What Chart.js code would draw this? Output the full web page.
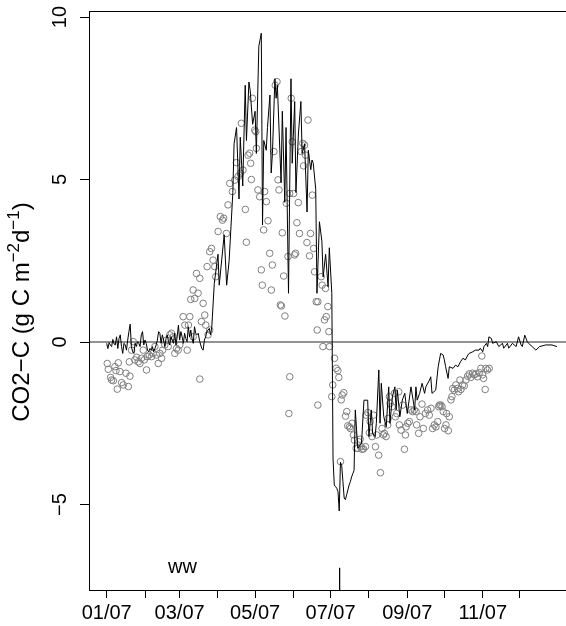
<!DOCTYPE html>
<html><head><meta charset="utf-8">
<script src="https://cdn.jsdelivr.net/npm/chart.js@4.4.0/dist/chart.umd.min.js"></script>
<style>html,body{margin:0;padding:0;background:#fff;overflow:hidden}#wrap{width:580px;height:626px}</style>
</head><body><div id="wrap"><canvas id="c" width="580" height="626"></canvas></div>
<script>
// ---- DATA (day of year 2007, 0 = 1 Jan) ----
const lineDays = [0,1,2,3,4,5,6,7,8,9,10,11,12,13,14,15,16,17,18,19,20,21,22,23,24,25,26,27,28,29,30,31,32,33,34,35,36,37,38,39,40,41,42,43,44,45,46,47,48,49,50,51,52,53,54,55,56,57,58,59,60,61,62,63,64,65,66,67,68,69,70,71,72,73,74,75,76,77,78,79,80,81,82,83,84,85,
 87,90,91,95,97,99,102,103,105,107,108,110,112,113,115,116,118,120,121,123,125,126,127,129,130,132,133,134,136,137,138,141,142,144,145,147,149,150,152,153,155,157,158,160,162,163,165,166,167,169,170,172,174,175,177,179,180,182,
 183,184,185,186,187,188,189,190,191,192,193,194,195,196,197,198,199,200,
 201,203,206,208,211,212,214,215,217,218,220,221,222,224,226,228,229,231,233,234,235,237,239,241,243,246,249,250,251,253,255,257,258,261,262,263,266,268,269,270,272,273,274,276,277,280,282,284,286,288,290,292,293,296,298,301,302,304,305,307,308,309,311,312,315,317,320,321,324,325,328,331,333,335,336,338,340,341,344,347,350,355,360,364];
const lineValues = [-0.04,-0.20,-0.02,-0.09,-0.14,0.08,-0.06,-0.09,0.16,-0.20,0.11,0.22,-0.14,-0.35,-0.04,-0.09,-0.25,0.06,0.32,0.55,-0.14,-0.30,-0.35,-0.04,-0.14,0.01,-0.04,-0.14,0.22,0.32,-0.09,0.06,-0.04,-0.25,-0.30,-0.20,-0.25,-0.14,-0.30,-0.20,-0.09,0.06,0.32,0.27,-0.04,0.22,0.06,-0.14,0.11,0.22,0.01,-0.09,0.16,0.06,-0.04,0.27,-0.09,0.16,0.52,0.06,0.32,0.16,-0.04,0.27,0.11,0.01,0.47,0.16,0.37,0.11,-0.04,0.47,0.27,0.22,0.27,0.06,-0.09,-0.20,-0.25,0.06,0.16,0.32,0.37,0.42,0.22,0.47,
 1.8,2.7,1.75,3.3,1.75,2.5,4.6,6.1,6.6,4.4,6.3,4.8,7.9,6.2,8.0,7.75,6.7,7.1,5.8,9.1,9.5,3.6,6.2,5.9,6.6,7.6,5.2,5.8,8.1,7.5,7.9,4.9,7.1,4.3,6.6,1.5,8.1,5.5,7.4,4.6,6.4,7.4,5.8,6.1,4.0,5.9,5.3,5.6,5.5,4.7,1.5,3.7,3.1,2.0,2.7,1.7,2.9,1.5,
 -3.6,-4.4,-4.45,-4.5,-4.6,-5.2,-3.7,-3.8,-4.3,-4.8,-4.85,-4.7,-4.55,-4.4,-4.3,-4.15,-4.05,-3.95,
 -2.09,-3.27,-3.12,-1.79,-1.79,-2.91,-2.09,-2.81,-2.91,-2.5,-0.86,-2.5,-1.27,-2.3,-2.61,-1.38,-2.5,-1.68,-1.38,-2.09,-1.48,-2.3,-1.79,-1.58,-2.2,-1.38,-2.09,-1.38,-1.79,-1.58,-1.27,-1.58,-1.38,-1.17,-1.07,-1.58,-1.48,-0.76,-0.55,-0.35,-0.40,-0.55,-0.76,-1.12,-0.76,-0.81,-0.71,-0.76,-0.61,-0.5,-0.55,-0.40,-0.35,-0.30,-0.25,-0.25,-0.19,-0.30,-0.14,-0.04,-0.14,0.16,0.11,-0.04,0.01,-0.14,-0.04,-0.19,-0.04,-0.19,-0.04,-0.14,0.16,-0.09,-0.14,0.21,0.01,-0.04,-0.14,-0.25,-0.14,-0.09,-0.09,-0.14];

const pointDays = [0.5,1.3,3.2,4.0,5.4,6.7,7.5,8.6,9.4,10.7,12.1,13.4,15.6,17.5,18.8,18.3,20.1,21.5,22.8,24.2,25.5,26.9,28.2,29.6,30.4,32.2,32.8,34.4,36.3,37.6,39.0,40.3,41.7,43.0,44.4,45.2,47.0,48.4,49.7,51.1,52.4,53.8,55.1,56.5,57.8,59.1,61.8,63.2,65.1,66.1,67.2,69.9,75.3,76.6,78.0,79.3,80.1,82.0,83.3,
 68.0,69.9,71.2,72.6,73.9,75.3,81.2,83.3,84.7,86.0,87.4,88.2,90.1,91.9,93.6,94.6,96.8,98.1,99.5,101.6,103.5,104.9,106.2,108.1,108.9,110.2,112.1,112.9,114.3,115.6,116.4,117.0,117.8,119.7,120.5,121.0,122.3,123.7,125.0,125.8,126.9,127.7,129.1,130.4,131.8,133.1,133.9,135.2,136.3,137.7,138.5,139.3,140.4,141.2,142.0,143.1,144.1,145.2,146.6,147.9,149.2,150.0,151.1,151.9,152.7,153.8,154.9,155.9,157.3,158.6,159.2,160.0,160.8,161.9,162.7,164.0,164.8,166.2,167.3,168.1,169.4,170.7,170.2,173.4,174.2,176.9,174.8,176.1,177.5,178.8,179.6,180.2,147.3,148.0,
 170.7,184.2,185.5,186.9,187.7,182.8,182.0,189.0,189.6,190.4,191.7,193.1,194.1,194.9,196.3,197.1,198.4,199.5,200.3,201.7,203.0,203.8,204.9,205.7,206.5,207.6,209.2,209.7,211.1,212.4,213.0,214.6,215.7,217.3,218.3,219.9,221.3,222.6,223.7,224.5,225.9,227.2,227.6,228.6,229.1,230.7,232.6,233.4,234.5,236.1,236.6,238.0,239.3,240.7,241.5,242.0,243.4,244.7,246.0,247.4,248.7,250.1,250.6,252.2,253.3,254.9,256.0,257.6,259.5,260.8,262.2,263.5,264.9,266.2,267.6,268.4,269.0,270.2,271.1,272.1,273.2,274.3,274.8,276.2,277.0,278.3,279.1,279.7,281.0,282.3,283.7,284.5,285.6,286.4,287.7,289.1,290.4,291.8,293.1,294.4,295.8,297.1,298.5,299.8,301.2,302.5,303.3,303.9,304.7,306.0,306.5,307.9,309.2];
const pointValues = [-0.66,-0.84,-1.09,-1.17,-1.19,-0.76,-0.88,-1.45,-0.64,-0.91,-1.25,-1.32,-0.96,-1.37,-1.05,-0.61,-0.25,0.01,-0.55,-0.47,-0.61,-0.66,-0.50,-0.25,-0.55,-0.86,-0.45,-0.40,-0.45,-0.35,-0.14,-0.40,-0.66,-0.35,-0.50,-0.25,-0.09,0.06,-0.14,0.22,0.27,0.16,-0.35,-0.20,-0.25,-0.09,0.78,0.52,-0.25,0.52,0.78,0.16,-1.14,0.63,1.19,0.83,0.52,0.22,0.37,
 1.31,1.60,1.34,2.11,1.50,1.96,2.32,2.78,2.88,2.52,2.32,2.01,3.40,3.86,3.75,3.81,3.34,4.22,4.88,4.63,4.98,5.52,5.09,5.19,6.73,5.29,4.08,3.07,5.75,5.81,5.50,5.00,7.50,6.52,6.47,5.96,4.68,4.47,2.22,1.75,3.45,4.63,4.32,3.73,2.73,1.60,2.37,5.86,7.90,8.01,4.99,4.68,1.14,1.11,3.36,2.03,0.80,4.27,2.63,4.57,7.50,6.16,4.57,2.68,2.73,3.67,4.29,3.34,5.86,6.11,5.42,6.06,5.75,3.06,6.83,2.65,3.34,4.52,2.88,2.16,1.24,1.24,0.37,2.01,1.75,1.65,-0.14,0.68,0.78,1.09,0.32,-0.14,-2.2,-1.07,
 -1.94,-0.50,-0.81,-0.88,-1.09,-1.32,-1.68,-3.68,-1.78,-1.63,-1.56,-2.28,-2.14,-2.58,-2.61,-2.66,-2.50,-2.86,-3.02,-3.27,-3.27,-3.07,-2.99,-3.22,-3.30,-3.29,-3.22,-2.25,-2.17,-2.79,-2.45,-2.91,-2.25,-3.22,-2.86,-3.48,-4.02,-2.66,-2.86,-2.81,-2.91,-2.55,-2.35,-1.68,-1.89,-1.99,-1.58,-2.30,-2.20,-1.53,-2.55,-2.71,-1.94,-3.30,-2.86,-2.61,-2.50,-2.45,-2.09,-2.14,-2.09,-2.14,-2.55,-2.81,-2.30,-1.91,-2.66,-2.20,-2.09,-2.25,-2.04,-2.66,-2.55,-2.61,-2.45,-1.99,-1.94,-1.94,-1.99,-2.14,-2.66,-2.55,-2.20,-2.73,-2.30,-1.78,-1.68,-1.43,-1.48,-1.32,-1.43,-1.53,-1.17,-1.46,-1.32,-1.35,-1.17,-1.05,-0.98,-1.09,-0.96,-1.01,-0.98,-1.07,-0.94,-0.81,-0.43,-1.01,-1.12,-1.46,-0.81,-0.86,-0.81];

const monthStartDays = [0,31,59,90,120,151,181,212,243,273,304,334];
const monthTickLabels = ['01/07','','03/07','','05/07','','07/07','','09/07','','11/07',''];
const yTickValues = [-5,0,5,10];
const yTickLabels = ['\u22125','0','5','10'];
const referenceValue = 0;
const markerDay = 188.3;
const markerValues = [-6.95,-7.7];
const noteText = 'ww';
const noteDay = 61.3;
const noteValue = -6.95;
const yTitleParts = [['CO2\u2212C (g C m',false],['\u22122',true],['d',false],['\u22121',true],[')',false]];

// ---- scale limits ----
const xMin = -14.28, xMax = 378.6, yMin = -7.63, yMax = 10.185;
const FONT = '"Liberation Sans", Arial, Helvetica, sans-serif';

const decor = {
  id:'decor',
  afterDraw(chart){
    const c = chart.ctx, a = chart.chartArea, xs = chart.scales.x, ys = chart.scales.y;
    c.save();
    c.strokeStyle = '#000'; c.lineWidth = 1;
    c.strokeRect(Math.round(a.left)+0.5, Math.round(a.top)+0.5, Math.round(a.right-a.left), Math.round(a.bottom-a.top));
    c.fillStyle = '#000';
    c.font = '20px ' + FONT;
    c.textAlign = 'center'; c.textBaseline = 'middle';
    yTickValues.forEach((v,i)=>{
      const py = ys.getPixelForValue(v);
      c.save(); c.translate(60, py); c.rotate(-Math.PI/2); c.fillText(yTickLabels[i],0,0); c.restore();
    });
    // note text
    c.fillText(noteText, xs.getPixelForValue(noteDay), ys.getPixelForValue(noteValue));
    // y title
    const mainF = '24px ' + FONT, supF = '17px ' + FONT;
    let total = 0;
    yTitleParts.forEach(p=>{ c.font = p[1]?supF:mainF; total += c.measureText(p[0]).width; });
    c.save();
    c.translate(22, 312);
    c.rotate(-Math.PI/2);
    c.textAlign = 'left';
    let x = -total/2;
    yTitleParts.forEach(p=>{
      c.font = p[1]?supF:mainF;
      c.fillText(p[0], x, p[1]? -8 : 0);
      x += c.measureText(p[0]).width;
    });
    c.restore();
    c.restore();
  }
};

new Chart(document.getElementById('c'), {
  type:'scatter',
  data:{datasets:[
    {type:'line', data: lineDays.map((d,i)=>({x:d,y:lineValues[i]})), borderColor:'#000', borderWidth:1, pointRadius:0, tension:0, order:1},
    {type:'scatter', data: pointDays.map((d,i)=>({x:d,y:pointValues[i]})), pointStyle:'circle', pointRadius:3.3, borderColor:'#7f7f7f', backgroundColor:'rgba(0,0,0,0)', borderWidth:1, order:2},
    {type:'line', data:[{x:xMin,y:referenceValue},{x:xMax,y:referenceValue}], borderColor:'#6e6e6e', borderWidth:1.4, pointRadius:0, order:3},
    {type:'line', data:[{x:markerDay,y:markerValues[0]},{x:markerDay,y:markerValues[1]}], borderColor:'#000', borderWidth:1, pointRadius:0, order:0}
  ]},
  options:{
    responsive:false, animation:false, devicePixelRatio:1,
    layout:{padding:{left:0, top:11, right:4, bottom:0}},
    plugins:{legend:{display:false}, tooltip:{enabled:false}},
    scales:{
      x:{type:'linear', min:xMin, max:xMax,
        afterBuildTicks: s=>{ s.ticks = monthStartDays.map(v=>({value:v})); },
        afterFit: s=>{ s.height = 36; },
        grid:{display:true, drawOnChartArea:false, drawTicks:true, tickLength:8, color:'#000', lineWidth:1},
        border:{display:false},
        ticks:{autoSkip:false, maxRotation:0, minRotation:0, padding:3, color:'#000', font:{family:FONT, size:20},
          callback:(v,i)=>monthTickLabels[i]}
      },
      y:{type:'linear', min:yMin, max:yMax,
        afterBuildTicks: s=>{ s.ticks = yTickValues.map(v=>({value:v})); },
        afterFit: s=>{ s.width = 89; },
        grid:{display:true, drawOnChartArea:false, drawTicks:true, tickLength:9, color:'#000', lineWidth:1},
        border:{display:false},
        ticks:{color:'rgba(0,0,0,0)', callback:()=>''}
      }
    }
  },
  plugins:[decor]
});
</script>
</body></html>
